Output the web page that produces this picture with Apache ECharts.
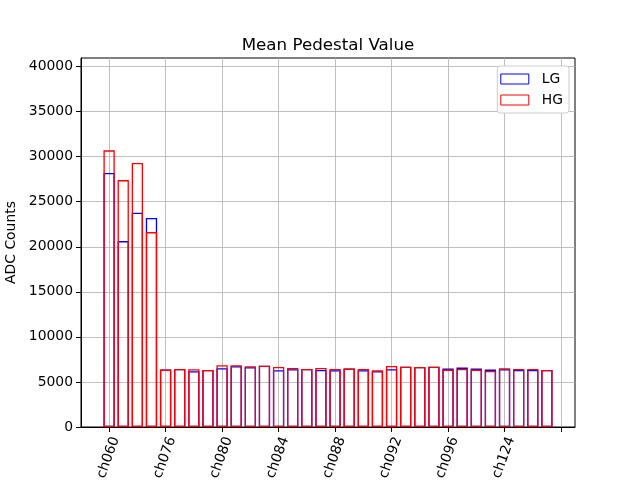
<!DOCTYPE html>
<html><head><meta charset="utf-8">
<script src="https://cdn.jsdelivr.net/npm/echarts@6/dist/echarts.min.js"></script>
<style>html,body{margin:0;padding:0;background:#fff}#c{width:640px;height:480px}</style>
</head><body><div id="c"></div>
<script>
const lgValues = [28190, 20630, 23780, 23190, 6370, 6440, 6190, 6330, 6520, 6740, 6630, 6810, 6300, 6410, 6440, 6330,
                  6300, 6480, 6300, 6190, 6410, 6700, 6670, 6700, 6480, 6590, 6480, 6370, 6410, 6330, 6330, 6330];
const hgValues = [30700, 27400, 29300, 21630, 6370, 6440, 6410, 6330, 6850, 6850, 6740, 6810, 6670, 6560, 6440, 6560,
                  6440, 6480, 6440, 6300, 6780, 6700, 6670, 6700, 6370, 6440, 6370, 6220, 6520, 6440, 6440, 6330];
const tickPositions = [0, 4, 8, 12, 16, 20, 24, 28, 32];
const tickLabels = ['ch060', 'ch076', 'ch080', 'ch084', 'ch088', 'ch092', 'ch096', 'ch124', ''];
const yTicks = [0, 5000, 10000, 15000, 20000, 25000, 30000, 35000, 40000];

const FONT = 'DejaVu Sans';
const G = {left: 81, right: 65, top: 58, bottom: 53};
const xMin = -1.99, xMax = 32.99, yMax = 40950;
const plotW = 640 - G.left - G.right;
const barPx = plotW / (xMax - xMin) * 0.8;

const chart = echarts.init(document.getElementById('c'), null, {renderer: 'canvas'});
const mk = arr => arr.map((v, i) => [i, v]);
chart.setOption({
  animation: false,
  backgroundColor: '#fff',
  textStyle: {fontFamily: FONT},
  title: {
    text: 'Mean Pedestal Value', left: 323, top: 32, textAlign: 'center',
    textStyle: {fontFamily: FONT, fontSize: 16.7, fontWeight: 'normal', color: '#000'}
  },
  legend: {
    orient: 'vertical', right: 71, top: 66,
    backgroundColor: '#fff', borderColor: '#cccccc', borderWidth: 1, borderRadius: 3,
    padding: [6, 6, 6, 3], itemGap: 7, itemWidth: 28, itemHeight: 10,
    textStyle: {fontFamily: FONT, fontSize: 13.9, color: '#000', padding: [0, 0, 0, 8]},
    data: [{name: 'LG', icon: 'rect', itemStyle: {borderWidth: 1}}, {name: 'HG', icon: 'rect', itemStyle: {borderWidth: 1}}]
  },
  grid: {left: G.left, right: G.right, top: G.top, bottom: G.bottom, containLabel: false, outerBoundsMode: 'none',
         show: true, borderColor: '#000', borderWidth: 1, backgroundColor: 'transparent'},
  xAxis: {
    type: 'value', min: xMin, max: xMax,
    axisLine: {show: true, onZero: false, lineStyle: {color: '#000', width: 1}},
    axisTick: {show: true, length: 5, lineStyle: {color: '#000'}, customValues: tickPositions},
    axisLabel: {
      customValues: tickPositions, rotate: 70, margin: 8, verticalAlign: 'top',
      fontFamily: FONT, fontSize: 13.9, color: '#000',
      formatter: v => { const k = tickPositions.indexOf(Math.round(v)); return k >= 0 ? tickLabels[k] : ''; }
    },
    splitLine: {show: true, lineStyle: {color: '#b0b0b0', width: 0.8}}
  },
  yAxis: {
    type: 'value', min: 0, max: yMax,
    name: 'ADC Counts', nameLocation: 'middle', nameGap: 58, nameRotate: 90,
    nameTextStyle: {fontFamily: FONT, fontSize: 13.9, color: '#000'},
    axisLine: {show: true, onZero: false, lineStyle: {color: '#000', width: 1}},
    axisTick: {show: true, length: 5, lineStyle: {color: '#000'}, customValues: yTicks},
    axisLabel: {customValues: yTicks, margin: 8, fontFamily: FONT, fontSize: 13.9, color: '#000',
                formatter: v => String(v)},
    splitLine: {show: true, lineStyle: {color: '#b0b0b0', width: 0.8}}
  },
  series: [
    {name: 'LG', type: 'bar', data: mk(lgValues), barWidth: barPx, barGap: '-100%',
     itemStyle: {color: 'rgba(0,0,0,0)', borderColor: '#0000ff', borderWidth: 1.3}},
    {name: 'HG', type: 'bar', data: mk(hgValues), barWidth: barPx, barGap: '-100%',
     itemStyle: {color: 'rgba(0,0,0,0)', borderColor: '#ff0000', borderWidth: 1.3}}
  ]
});
</script></body></html>
